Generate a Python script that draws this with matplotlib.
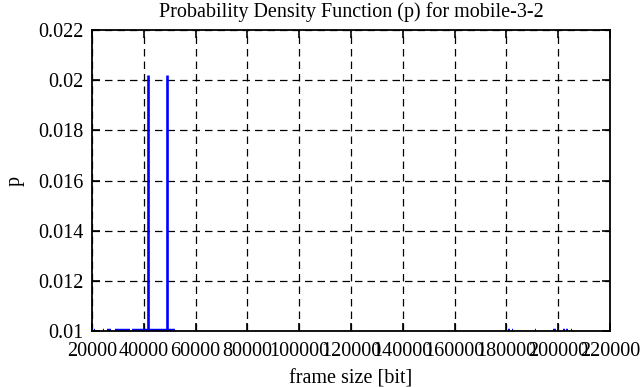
import matplotlib
matplotlib.use("Agg")
import matplotlib.pyplot as plt
import numpy as np

# Data
spike_x = [41700, 49000]
spike_p = [0.0202, 0.0202]
# frame-size ranges whose (small) probabilities fall below the visible y-range
low_start = [20770, 24250, 25800, 28880, 35440, 180800, 182000, 191000, 198100, 201700, 203000, 205000]
low_end   = [21350, 24630, 27340, 34670, 52050, 181400, 182600, 191500, 199000, 202600, 203700, 205400]

xticks = [20000, 40000, 60000, 80000, 100000, 120000, 140000, 160000, 180000, 200000, 220000]
yticks = [0.01, 0.012, 0.014, 0.016, 0.018, 0.02, 0.022]
ytick_labels = ["0.01", "0.012", "0.014", "0.016", "0.018", "0.02", "0.022"]

plt.rcParams['font.family'] = ['Liberation Serif', 'DejaVu Serif']
FS = 14.5

fig = plt.figure(figsize=(6.41, 3.87), dpi=100)
ax = fig.add_axes([92/641, 1-331/387, (610-92)/641, (331-30)/387])

ax.set_xlim(20000, 220000)
ax.set_ylim(0.01, 0.022)

ax.vlines(spike_x, 0, spike_p, colors='#0000ff', linewidth=1.9, zorder=3)
ax.hlines([0.01]*len(low_start), low_start, low_end, colors='#0000ff', linewidth=3.2, zorder=3)

ax.set_xticks(xticks)
ax.set_xticklabels([str(t) for t in xticks])
ax.set_yticks(yticks)
ax.set_yticklabels(ytick_labels)
ax.tick_params(direction='in', length=6, width=1.2, top=True, right=True, labelsize=FS)
ax.tick_params(axis='x', pad=8)
ax.tick_params(axis='y', pad=6)
ax.grid(True, color='black', linestyle=(0, (6, 4)), linewidth=0.9)
for s in ax.spines.values():
    s.set_linewidth(1.3)
    s.set_zorder(4)

ax.set_title("Probability Density Function (p) for mobile-3-2", fontsize=FS, pad=9)
ax.set_xlabel("frame size [bit]", fontsize=FS, labelpad=6)
ax.set_ylabel("p", fontsize=FS, labelpad=10)

fig.savefig("out.png", dpi=100)
